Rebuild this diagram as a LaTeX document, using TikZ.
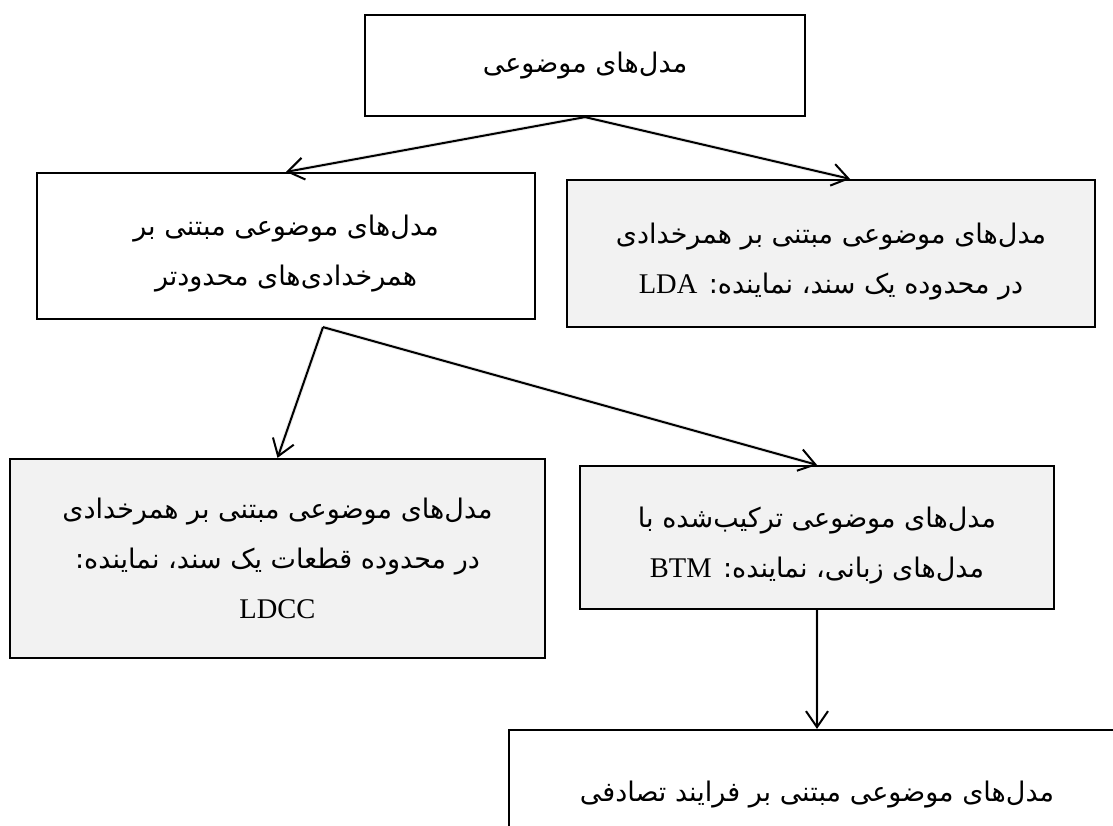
\documentclass[tikz,border=0pt]{standalone}
\usepackage{fontspec}
\setmainfont{Liberation Serif}
\newfontfamily\farsi[Script=Arabic]{DejaVu Sans}
\newfontfamily\latin{Liberation Serif}
\TeXXeTstate=1
\usetikzlibrary{arrows.meta,calc}
\definecolor{boxgray}{HTML}{F2F2F2}
% one right-to-left line of Persian text
\newcommand{\faline}[1]{\beginR #1\endR}
% Latin words inside a Persian line
\newcommand{\latword}[1]{\beginL{\latin\fontsize{28.5}{50}\selectfont #1}\endL}
% invisible strut that lowers a two-line label a little inside its box
\newcommand{\dropstrut}{\rule{0pt}{36pt}}
\tikzset{
  plainbox/.style={draw=black, line width=2.2pt, fill=white, align=center,
    inner sep=0pt, font=\farsi\fontsize{27}{50}\selectfont},
  graybox/.style={plainbox, fill=boxgray},
  arr/.style={line width=2pt, -{Straight Barb[length=16pt,width=22pt,line width=2pt]}},
  arrshadow/.style={line width=4pt, black, opacity=0.08, shorten >=4pt},
}
\begin{document}
\begin{tikzpicture}[x=1pt,y=-1pt]
  \useasboundingbox (0,0) rectangle (1113,826);
  \clip (0,0) rectangle (1113,826);
  % boxes
  \node[plainbox, minimum width=440pt, minimum height=101pt] (top) at (585,65.5)
    {\faline{مدل‌های موضوعی}};
  \node[plainbox, minimum width=498pt, minimum height=146pt] (B) at (286,246)
    {\dropstrut\faline{مدل‌های موضوعی مبتنی بر}\\ \faline{همرخدادی‌های محدودتر}};
  \node[graybox, minimum width=528pt, minimum height=147pt] (lda) at (831,253.5)
    {\dropstrut\faline{مدل‌های موضوعی مبتنی بر همرخدادی}\\ \faline{در محدوده یک سند، نماینده: \latword{LDA}}};
  \node[graybox, minimum width=535pt, minimum height=199pt] (ldcc) at (277.5,558.5)
    {\faline{مدل‌های موضوعی مبتنی بر همرخدادی}\\ \faline{در محدوده قطعات یک سند، نماینده:}\\ \latword{LDCC}};
  \node[graybox, minimum width=474pt, minimum height=143pt] (btm) at (817,537.5)
    {\dropstrut\faline{مدل‌های موضوعی ترکیب‌شده با}\\ \faline{مدل‌های زبانی، نماینده: \latword{BTM}}};
  \node[plainbox, minimum width=616pt, minimum height=130pt] (bot) at (817,795)
    {\faline{مدل‌های موضوعی مبتنی بر فرایند تصادفی}};
  % fork point just under the second-level box
  \coordinate (bfork) at ($(B.south)+(37,7)$);
  \coordinate (ldatip) at ($(lda.north)+(19,0)$);
  % soft shadows under the connectors
  \begin{scope}[shift={(2,4)}]
    \draw[arrshadow] (top.south) -- (B.north);
    \draw[arrshadow] (top.south) -- (ldatip);
    \draw[arrshadow] (bfork) -- (ldcc.north);
    \draw[arrshadow] (bfork) -- (btm.north);
    \draw[arrshadow] (btm.south) -- (bot.north);
  \end{scope}
  % connectors
  \draw[arr] (top.south) -- (B.north);
  \draw[arr] (top.south) -- (ldatip);
  \draw[arr] (bfork) -- (ldcc.north);
  \draw[arr] (bfork) -- (btm.north);
  \draw[arr] (btm.south) -- (bot.north);
\end{tikzpicture}
\end{document}
